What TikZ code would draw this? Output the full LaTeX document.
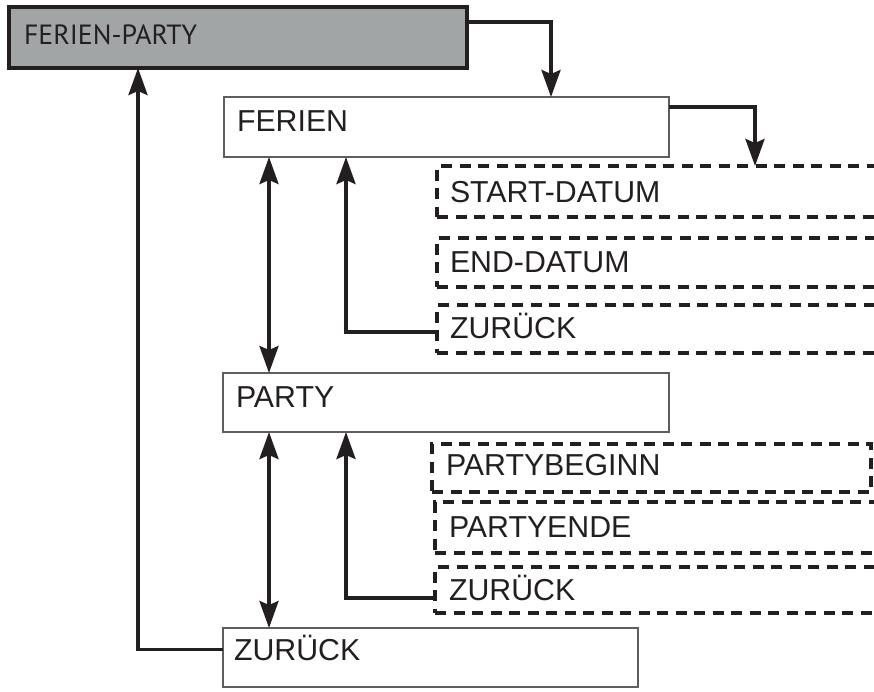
\documentclass[tikz,border=0pt]{standalone}
\usepackage{fontspec}
\setmainfont{Liberation Sans}
\newfontfamily\titlefont{PT Sans}
\usetikzlibrary{arrows.meta}

\definecolor{ink}{HTML}{231F20}
\definecolor{rootfill}{HTML}{A2A5A5}
\definecolor{frame}{HTML}{5E5E5E}

\begin{document}
\begin{tikzpicture}[x=1pt,y=-1pt,
  every node/.style={outer sep=0pt, inner ysep=0pt, anchor=north west, align=left, text=ink},
  menubox/.style={draw=frame, line width=2.8pt, fill=white, inner xsep=13pt,
    font=\fontsize{30.3}{31}\selectfont},
  rootbox/.style={draw=ink, line width=3.8pt, fill=rootfill, inner xsep=15pt,
    font=\titlefont\fontsize{27.8}{28}\selectfont},
  subbox/.style={draw=ink, line width=3.4pt, dash pattern=on 11pt off 7.5pt, inner xsep=13pt,
    font=\fontsize{30.3}{31}\selectfont},
  arr/.style={draw=ink, line width=3.6pt, -{Stealth[length=27pt,width=19pt,inset=4pt]}},
  dbl/.style={draw=ink, line width=3.6pt, {Stealth[length=27pt,width=19pt,inset=4pt]}-{Stealth[length=27pt,width=19pt,inset=4pt]}}
]
\useasboundingbox (0,0) rectangle (874,691);
\clip (0,0) rectangle (874,691);
\fill[white] (0,0) rectangle (874,691);

% main menu
\node[rootbox, text width=428pt, text height=37pt, text depth=24pt] (fp) at (9,7) {FERIEN-PARTY};

% first level
\node[menubox, text width=419pt, text height=34pt, text depth=26pt] (ferien) at (224,97) {FERIEN};
\node[menubox, text width=420pt, text height=34pt, text depth=25pt] (party) at (223,373) {PARTY};
\node[menubox, inner xsep=11pt, text width=393pt, text height=32pt, text depth=27pt] (zurb) at (223,628) {ZURÜCK};

% submenu of FERIEN
\node[subbox, text width=437pt, text height=36pt, text depth=15pt] (start) at (437,166) {START-DATUM};
\node[subbox, text width=437pt, text height=34pt, text depth=15pt] (endd) at (437,238) {END-DATUM};
\node[subbox, text width=437pt, text height=33pt, text depth=15pt] (zurA) at (437,305) {ZURÜCK};

% submenu of PARTY
\node[subbox, inner xsep=14pt, text width=411pt, text height=31pt, text depth=17pt] (pbeg) at (432,444) {PARTYBEGINN};
\node[subbox, inner xsep=14pt, text width=437pt, text height=35pt, text depth=16pt] (pend) at (435,502) {PARTYENDE};
\node[subbox, inner xsep=14pt, text width=437pt, text height=33pt, text depth=13pt] (zurB) at (435,567) {ZURÜCK};

% connector columns
\coordinate (cA) at (269,0);
\coordinate (cB) at (346,0);
\coordinate (cC) at (138,0);
\coordinate (cD) at (551,0);
\coordinate (cE) at (755,0);

\draw[arr] ([yshift=-15pt]fp.north east) -| (ferien.north -| cD);
\draw[arr] ([yshift=-10pt]ferien.north east) -| (start.north -| cE);
\draw[dbl] (ferien.south -| cA) -- (party.north -| cA);
\draw[arr] ([yshift=-3pt]zurA.west) -| (ferien.south -| cB);
\draw[dbl] (party.south -| cA) -- (zurb.north -| cA);
\draw[arr] ([yshift=-8pt]zurB.west) -| (party.south -| cB);
\draw[arr] ([yshift=8pt]zurb.west) -| (fp.south -| cC);
\end{tikzpicture}
\end{document}
